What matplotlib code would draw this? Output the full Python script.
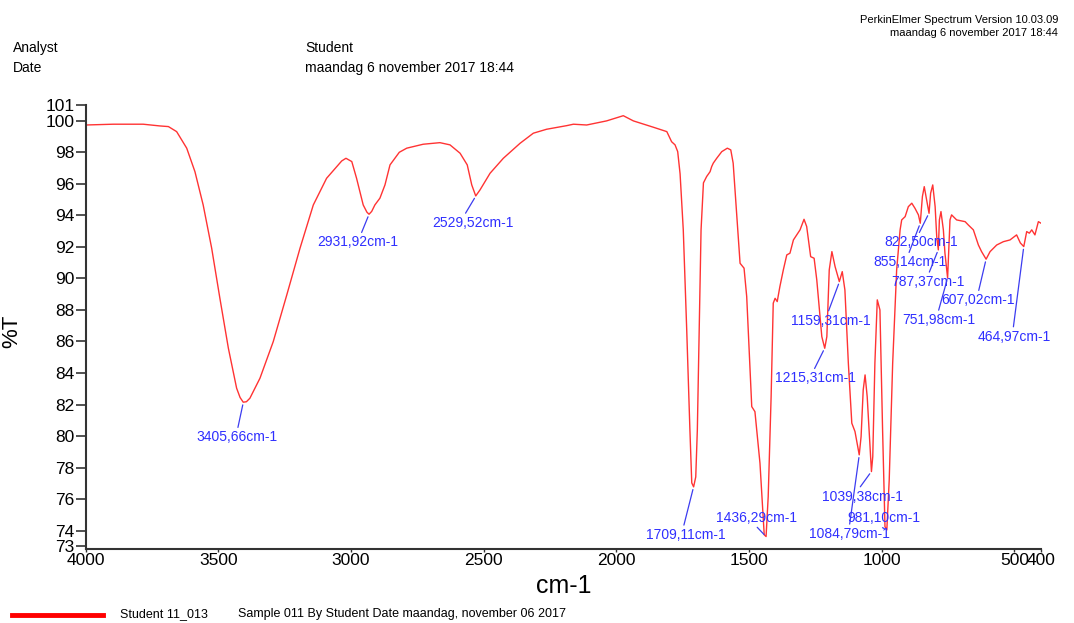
import matplotlib
matplotlib.use("Agg")
import matplotlib.pyplot as plt

plt.rcParams['font.family'] = ['Liberation Sans', 'DejaVu Sans']

# spectrum (wavenumber cm-1, %T)
wavenumber = [4000, 3896, 3783, 3720, 3688, 3657, 3619, 3588, 3557, 3525,
              3494, 3462, 3431, 3418, 3406, 3394, 3381, 3343, 3293, 3242,
              3192, 3142, 3092, 3054, 3035, 3019, 2997, 2979, 2954, 2940,
              2932, 2922, 2910, 2891, 2872, 2853, 2818, 2790, 2728, 2665,
              2627, 2589, 2562, 2545, 2530, 2514, 2476, 2426, 2363, 2313,
              2263, 2187, 2162, 2112, 2037, 1974, 1936, 1861, 1810, 1792,
              1779, 1769, 1760, 1748, 1735, 1723, 1716, 1709, 1701, 1695,
              1688, 1681, 1672, 1660, 1647, 1641, 1635, 1622, 1603, 1582,
              1569, 1560, 1547, 1534, 1519, 1509, 1490, 1478, 1459, 1443,
              1436, 1428, 1417, 1409, 1402, 1394, 1384, 1371, 1358, 1346,
              1333, 1308, 1293, 1283, 1268, 1255, 1245, 1226, 1215, 1207,
              1198, 1188, 1176, 1160, 1149, 1139, 1126, 1113, 1101, 1085,
              1078, 1070, 1063, 1055, 1039, 1034, 1026, 1017, 1007, 997,
              988, 981, 972, 959, 944, 931, 925, 912, 900, 887,
              875, 862, 855, 847, 840, 831, 822, 816, 808, 799,
              793, 787, 783, 777, 768, 762, 752, 743, 737, 718,
              686, 674, 655, 636, 624, 607, 592, 567, 542, 517,
              492, 478, 465, 454, 444, 435, 423, 410, 400]
transmittance = [99.73, 99.78, 99.78, 99.67, 99.63, 99.31, 98.26, 96.77, 94.66, 91.92,
                 88.74, 85.57, 83.04, 82.45, 82.15, 82.18, 82.40, 83.67, 85.99, 88.95,
                 91.92, 94.66, 96.35, 97.09, 97.45, 97.62, 97.41, 96.35, 94.66, 94.20,
                 94.07, 94.25, 94.66, 95.09, 95.93, 97.20, 98.00, 98.26, 98.51, 98.61,
                 98.47, 97.94, 97.20, 95.93, 95.23, 95.61, 96.67, 97.62, 98.57, 99.21,
                 99.46, 99.69, 99.78, 99.73, 99.99, 100.32, 99.99, 99.59, 99.31, 98.67,
                 98.47, 98.04, 96.63, 93.08, 86.73, 80.39, 77.03, 76.78, 77.41, 80.39,
                 86.73, 93.08, 96.06, 96.46, 96.77, 97.09, 97.31, 97.62, 98.04, 98.26,
                 98.15, 97.31, 94.13, 90.96, 90.65, 88.85, 81.87, 81.55, 78.28, 73.74,
                 73.63, 76.16, 82.50, 88.43, 88.74, 88.53, 89.48, 90.54, 91.49, 91.60,
                 92.44, 93.08, 93.75, 93.29, 91.38, 91.28, 89.91, 86.31, 85.57, 86.31,
                 90.54, 91.70, 90.75, 89.80, 90.43, 89.27, 84.62, 80.82, 80.29, 78.81,
                 79.97, 82.93, 83.88, 82.50, 77.75, 78.70, 84.62, 88.64, 88.00, 80.39,
                 74.26, 74.05, 77.22, 84.62, 90.54, 93.08, 93.71, 93.92, 94.55, 94.77,
                 94.45, 94.03, 93.50, 95.19, 95.82, 94.98, 94.13, 95.40, 95.93, 94.55,
                 92.65, 91.81, 93.71, 94.24, 93.08, 91.60, 90.03, 93.71, 94.03, 93.71,
                 93.60, 93.39, 93.08, 92.12, 91.70, 91.22, 91.70, 92.12, 92.33, 92.44,
                 92.76, 92.25, 92.02, 92.97, 92.87, 93.08, 92.76, 93.60, 93.50]

# labelled peaks
peak_labels = ["3405,66cm-1", "2931,92cm-1", "2529,52cm-1", "1709,11cm-1",
               "1436,29cm-1", "1215,31cm-1", "1159,31cm-1", "1084,79cm-1",
               "1039,38cm-1", "981,10cm-1", "855,14cm-1", "822,50cm-1",
               "787,37cm-1", "751,98cm-1", "607,02cm-1", "464,97cm-1"]
peak_wn = [3405.66, 2931.92, 2529.52, 1709.11, 1436.29, 1215.31, 1159.31, 1084.79,
           1039.38, 981.10, 855.14, 822.50, 787.37, 751.98, 607.02, 464.97]
peak_T = [82.15, 94.07, 95.23, 76.78, 73.63, 85.57, 89.80, 78.81,
          77.75, 74.05, 93.50, 94.13, 91.81, 90.03, 91.22, 92.02]

# text offsets from the peak in pixels, and where the leader meets the text
label_dx = [-6, -11, -3, -8, -9, -9, -9, -10, -9, -3, -10, -8, -10, -9, -8, -10]
label_dy = [-35, -28, -27, -48, 19, -30, -39, -79, -25, 12, -39, -29, -32, -42, -41, -90]
leader_rel = [(0.5, 1), (0.53, 1), (0.39, 1), (0.47, 1), (0.47, 0), (0.47, 1),
              (0.45, 0.8), (0.5, 1), (0.45, 1), (0.41, 0), (0.47, 1), (0.46, 1),
              (0.5, 1), (0.49, 1), (0.5, 1), (0.49, 1)]

xticks = [4000, 3500, 3000, 2500, 2000, 1500, 1000, 500, 400]
yticks = [73, 74, 76, 78, 80, 82, 84, 86, 88, 90, 92, 94, 96, 98, 100, 101]

fig = plt.figure(figsize=(10.74, 6.23), dpi=100)
ax = fig.add_axes([0.0797, 0.1188, 0.9693 - 0.0797, 0.8315 - 0.1188])

ax.plot(wavenumber, transmittance, color="#ff3333", lw=1.0)

for lab, wn, t, dx, dy, rel in zip(peak_labels, peak_wn, peak_T, label_dx, label_dy, leader_rel):
    ax.annotate(lab, xy=(wn, t), xytext=(dx, dy), textcoords="offset pixels",
                ha="center", va="center", fontsize=10, color="#2f2fff",
                arrowprops=dict(arrowstyle="-", color="#3c3cf0", lw=0.9,
                                shrinkA=0, shrinkB=2, relpos=rel))

ax.set_xlim(4000, 400)
ax.set_ylim(72.84, 101)
ax.set_xticks(xticks)
ax.set_yticks(yticks)
ax.tick_params(axis="y", direction="out", length=7, width=1.2, pad=1,
               labelsize=12.5, color="#333333")
ax.tick_params(axis="x", direction="out", length=2, width=1.0, pad=1,
               labelsize=12.5, color="#333333")
for s in ["top", "right"]:
    ax.spines[s].set_visible(False)
for s in ["left", "bottom"]:
    ax.spines[s].set_color("#333333")
    ax.spines[s].set_linewidth(1.5)

ax.set_xlabel("cm-1", fontsize=18, labelpad=4)
ax.set_ylabel("%T", fontsize=16)
ax.yaxis.set_label_coords(-0.066, 0.49)

# header
fig.text(13 / 1074, 1 - 48 / 623, "Analyst", fontsize=10, va="center")
fig.text(13 / 1074, 1 - 68 / 623, "Date", fontsize=10, va="center")
fig.text(305 / 1074, 1 - 48 / 623, "Student", fontsize=10, va="center")
fig.text(305 / 1074, 1 - 68 / 623, "maandag 6 november 2017 18:44", fontsize=10, va="center")
fig.text(1058 / 1074, 1 - 20 / 623, "PerkinElmer Spectrum Version 10.03.09",
         fontsize=8, ha="right", va="center")
fig.text(1058 / 1074, 1 - 33 / 623, "maandag 6 november 2017 18:44",
         fontsize=8, ha="right", va="center")

# legend row
fig.add_artist(plt.Line2D([12 / 1074, 103 / 1074], [1 - 615 / 623, 1 - 615 / 623],
                          color="red", lw=3.5))
fig.text(120 / 1074, 1 - 614 / 623, "Student 11_013", fontsize=9, va="center")
fig.text(238 / 1074, 1 - 614 / 623, "Sample 011 By Student Date maandag, november 06 2017",
         fontsize=9, va="center")

fig.savefig("out.png", dpi=100)
